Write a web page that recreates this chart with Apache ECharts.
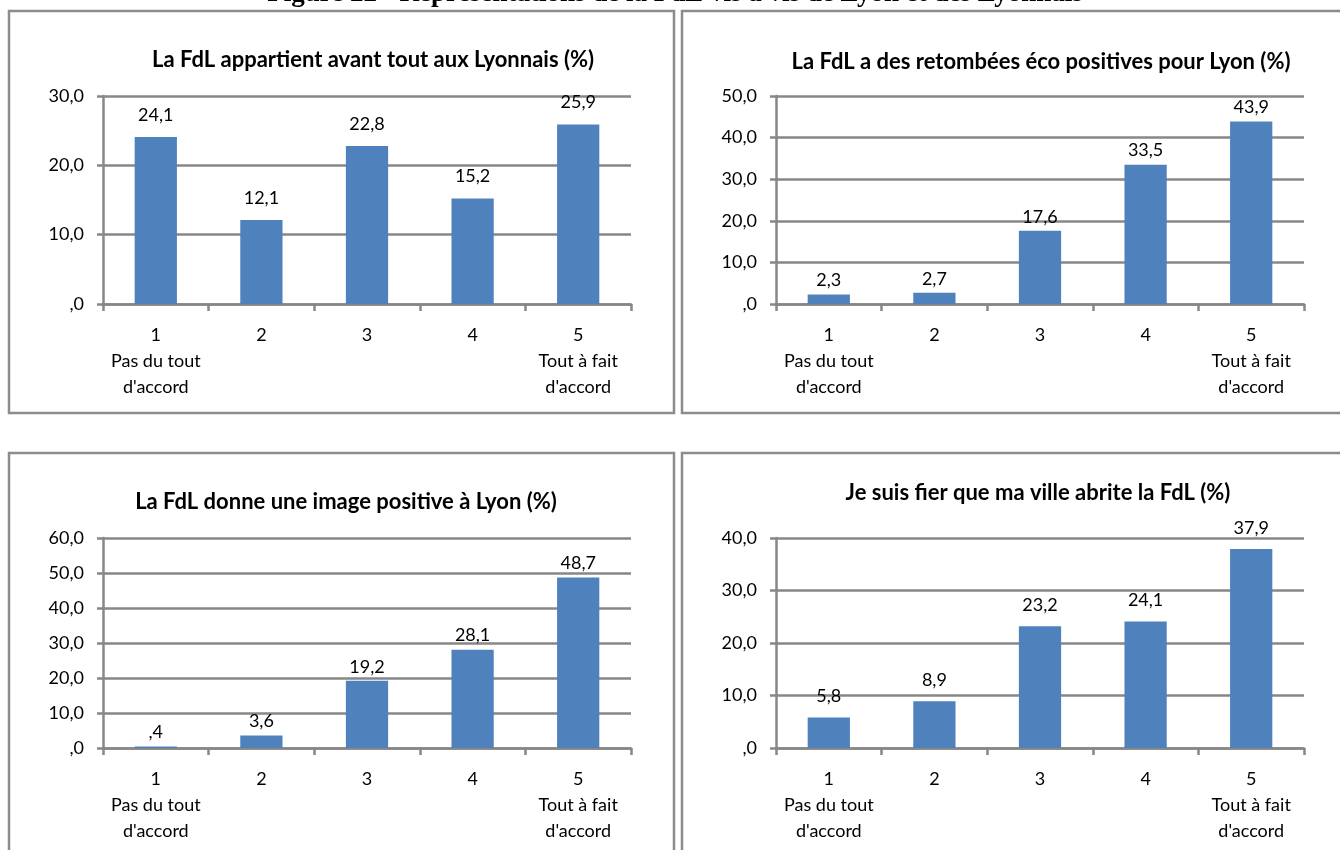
<!DOCTYPE html>
<html>
<head>
<meta charset="utf-8">
<script src="https://cdn.jsdelivr.net/npm/echarts@6/dist/echarts.min.js"></script>
<style>
html,body{margin:0;padding:0;background:#fff;}
#chart{width:1340px;height:850px;}
</style>
</head>
<body>
<div id="chart"></div>
<script>
// ---- Data ----
const figureCaption = "Figure 22 - Représentations de la FdL vis à vis de Lyon et des Lyonnais";
const categories = ["1\nPas du tout\nd'accord", "2", "3", "4", "5\nTout à fait\nd'accord"];
const titles = [
  "La FdL appartient avant tout aux Lyonnais (%)",
  "La FdL a des retombées éco positives pour Lyon (%)",
  "La FdL donne une image positive à Lyon (%)",
  "Je suis fier que ma ville abrite la FdL (%)"
];
const appartientLyonnais = [24.1, 12.1, 22.8, 15.2, 25.9];
const retombeesEco = [2.3, 2.7, 17.6, 33.5, 43.9];
const imagePositive = [0.4, 3.6, 19.2, 28.1, 48.7];
const fierVille = [5.8, 8.9, 23.2, 24.1, 37.9];
const yMax = [30, 50, 60, 40];
const yInterval = 10;

// ---- Layout ----
const seriesData = [appartientLyonnais, retombeesEco, imagePositive, fierVille];
const grids = [
  {left: 103, right: 1340 - 631, top: 96, bottom: 850 - 304},
  {left: 776, right: 1340 - 1304, top: 96, bottom: 850 - 304},
  {left: 103, right: 1340 - 631, top: 538, bottom: 850 - 748},
  {left: 776, right: 1340 - 1304, top: 538, bottom: 850 - 748}
];
const titlePos = [
  {x: 368, y: 55}, {x: 1036, y: 57}, {x: 341, y: 497}, {x: 1033, y: 488}
];
const labelDist = [13, 5, 5, 12];
const GRAY = '#878787';
const FONT = 'Lato';
const fmt = v => {
  const s = (Math.round(v * 10) / 10).toFixed(1).replace('.', ',');
  return s.startsWith('0,') ? s.slice(1) : s;
};

const chart = echarts.init(document.getElementById('chart'), null, {renderer: 'canvas'});
const option = {
  backgroundColor: '#fff',
  animation: false,
  title: titles.map((t, i) => ({
    text: t,
    left: titlePos[i].x, top: titlePos[i].y,
    textAlign: 'center', textVerticalAlign: 'middle',
    textStyle: {fontFamily: FONT, fontWeight: 'bold', fontSize: 22, color: '#000'}
  })),
  grid: grids.map(g => Object.assign({containLabel: false}, g)),
  xAxis: grids.map((g, i) => ({
    type: 'category', gridIndex: i, data: categories,
    boundaryGap: true,
    axisLine: {lineStyle: {color: GRAY, width: 2.5}},
    axisTick: {show: true, length: 7, lineStyle: {color: GRAY, width: 2.5}},
    axisLabel: {margin: 18, color: '#000', fontFamily: FONT, fontSize: 18, lineHeight: 26, interval: 0}
  })),
  yAxis: grids.map((g, i) => ({
    type: 'value', gridIndex: i, min: 0, max: yMax[i], interval: yInterval,
    axisLine: {show: true, lineStyle: {color: GRAY, width: 2.5}},
    axisTick: {show: true, length: 6, lineStyle: {color: GRAY, width: 2.5}},
    splitLine: {show: true, lineStyle: {color: GRAY, width: 2.5}},
    axisLabel: {margin: 19, color: '#000', fontFamily: FONT, fontSize: 18, formatter: v => fmt(v)}
  })),
  series: seriesData.map((d, i) => ({
    type: 'bar', xAxisIndex: i, yAxisIndex: i, data: d,
    barWidth: '40%',
    itemStyle: {color: '#4F81BD'},
    label: {show: true, position: 'top', distance: labelDist[i], color: '#000',
      fontFamily: FONT, fontSize: 18, formatter: p => fmt(p.value)}
  })),
  graphic: [
    {type: 'rect', shape: {x: 9, y: 11, width: 665, height: 402}, style: {fill: 'none', stroke: '#8c8c8c', lineWidth: 2.5}, z: -1},
    {type: 'rect', shape: {x: 682, y: 11, width: 680, height: 402}, style: {fill: 'none', stroke: '#8c8c8c', lineWidth: 2.5}, z: -1},
    {type: 'rect', shape: {x: 9, y: 453, width: 665, height: 420}, style: {fill: 'none', stroke: '#8c8c8c', lineWidth: 2.5}, z: -1},
    {type: 'rect', shape: {x: 682, y: 453, width: 680, height: 420}, style: {fill: 'none', stroke: '#8c8c8c', lineWidth: 2.5}, z: -1},
    {type: 'text', x: 675, y: 8, style: {text: figureCaption, fill: '#000',
      font: 'bold 27px "Liberation Serif"', textAlign: 'center', textVerticalAlign: 'bottom'}}
  ]
};
chart.setOption(option);
</script>
</body>
</html>
